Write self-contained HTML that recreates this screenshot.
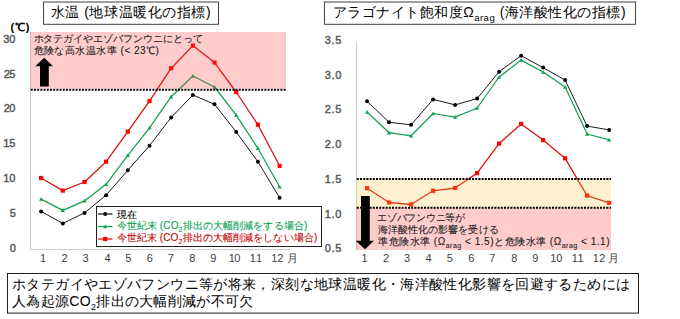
<!DOCTYPE html>
<html lang="ja"><head><meta charset="utf-8"><style>
html,body{margin:0;padding:0;background:#fff;width:680px;height:319px;overflow:hidden}
svg{display:block;font-family:"Liberation Sans",sans-serif}
</style></head><body>
<svg width="680" height="319" viewBox="0 0 680 319">
<path d="M30.5,32 V249.5 H290" fill="none" stroke="#CCCCCC" stroke-width="1"/><path d="M356.5,42 V250" fill="none" stroke="#CCCCCC" stroke-width="1"/><polyline points="41.1,211.4 62.8,223.4 84.5,212.9 106.1,195.2 127.8,170.2 149.5,145.7 171.2,117.4 192.9,95.0 214.5,104.3 236.2,131.9 257.9,161.7 279.6,197.8" fill="none" stroke="#000000" stroke-width="0.9" stroke-linejoin="round"/><circle cx="41.1" cy="211.4" r="2.0" fill="#000000"/><circle cx="62.8" cy="223.4" r="2.0" fill="#000000"/><circle cx="84.5" cy="212.9" r="2.0" fill="#000000"/><circle cx="106.1" cy="195.2" r="2.0" fill="#000000"/><circle cx="127.8" cy="170.2" r="2.0" fill="#000000"/><circle cx="149.5" cy="145.7" r="2.0" fill="#000000"/><circle cx="171.2" cy="117.4" r="2.0" fill="#000000"/><circle cx="192.9" cy="95.0" r="2.0" fill="#000000"/><circle cx="214.5" cy="104.3" r="2.0" fill="#000000"/><circle cx="236.2" cy="131.9" r="2.0" fill="#000000"/><circle cx="257.9" cy="161.7" r="2.0" fill="#000000"/><circle cx="279.6" cy="197.8" r="2.0" fill="#000000"/><polyline points="41.1,199.1 62.8,210.4 84.5,200.9 106.1,184.3 127.8,155.4 149.5,127.8 171.2,96.7 192.9,76.0 214.5,87.0 236.2,115.2 257.9,148.2 279.6,186.8" fill="none" stroke="#12A150" stroke-width="1.25" stroke-linejoin="round"/><path d="M41.1,197.0 L43.2,200.8 L39.0,200.8Z" fill="#12A150"/><path d="M62.8,208.3 L64.9,212.1 L60.7,212.1Z" fill="#12A150"/><path d="M84.5,198.8 L86.6,202.6 L82.4,202.6Z" fill="#12A150"/><path d="M106.1,182.2 L108.2,186.0 L104.0,186.0Z" fill="#12A150"/><path d="M127.8,153.3 L129.9,157.1 L125.7,157.1Z" fill="#12A150"/><path d="M149.5,125.7 L151.6,129.5 L147.4,129.5Z" fill="#12A150"/><path d="M171.2,94.6 L173.3,98.4 L169.1,98.4Z" fill="#12A150"/><path d="M192.9,73.9 L195.0,77.7 L190.8,77.7Z" fill="#12A150"/><path d="M214.5,84.9 L216.6,88.7 L212.4,88.7Z" fill="#12A150"/><path d="M236.2,113.1 L238.3,116.9 L234.1,116.9Z" fill="#12A150"/><path d="M257.9,146.1 L260.0,149.9 L255.8,149.9Z" fill="#12A150"/><path d="M279.6,184.7 L281.7,188.5 L277.5,188.5Z" fill="#12A150"/><polyline points="41.1,178.0 62.8,190.6 84.5,182.0 106.1,161.7 127.8,131.6 149.5,101.1 171.2,68.2 192.9,45.6 214.5,62.6 236.2,92.0 257.9,124.7 279.6,165.8" fill="none" stroke="#D81414" stroke-width="1.3" stroke-linejoin="round"/><rect x="39.0" y="175.9" width="4.2" height="4.2" fill="#FF0000"/><rect x="60.7" y="188.5" width="4.2" height="4.2" fill="#FF0000"/><rect x="82.4" y="179.9" width="4.2" height="4.2" fill="#FF0000"/><rect x="104.0" y="159.6" width="4.2" height="4.2" fill="#FF0000"/><rect x="125.7" y="129.5" width="4.2" height="4.2" fill="#FF0000"/><rect x="147.4" y="99.0" width="4.2" height="4.2" fill="#FF0000"/><rect x="169.1" y="66.1" width="4.2" height="4.2" fill="#FF0000"/><rect x="190.8" y="43.5" width="4.2" height="4.2" fill="#FF0000"/><rect x="212.4" y="60.5" width="4.2" height="4.2" fill="#FF0000"/><rect x="234.1" y="89.9" width="4.2" height="4.2" fill="#FF0000"/><rect x="255.8" y="122.6" width="4.2" height="4.2" fill="#FF0000"/><rect x="277.5" y="163.7" width="4.2" height="4.2" fill="#FF0000"/><polyline points="367.1,101.3 389.1,122.3 411.1,124.8 433.1,99.4 455.1,104.9 477.1,98.6 499.1,71.7 521.1,55.7 543.1,67.6 565.1,80.1 587.1,126.1 609.1,129.9" fill="none" stroke="#000000" stroke-width="0.9" stroke-linejoin="round"/><circle cx="367.1" cy="101.3" r="2.0" fill="#000000"/><circle cx="389.1" cy="122.3" r="2.0" fill="#000000"/><circle cx="411.1" cy="124.8" r="2.0" fill="#000000"/><circle cx="433.1" cy="99.4" r="2.0" fill="#000000"/><circle cx="455.1" cy="104.9" r="2.0" fill="#000000"/><circle cx="477.1" cy="98.6" r="2.0" fill="#000000"/><circle cx="499.1" cy="71.7" r="2.0" fill="#000000"/><circle cx="521.1" cy="55.7" r="2.0" fill="#000000"/><circle cx="543.1" cy="67.6" r="2.0" fill="#000000"/><circle cx="565.1" cy="80.1" r="2.0" fill="#000000"/><circle cx="587.1" cy="126.1" r="2.0" fill="#000000"/><circle cx="609.1" cy="129.9" r="2.0" fill="#000000"/><polyline points="367.1,112.0 389.1,132.7 411.1,135.8 433.1,113.5 455.1,117.1 477.1,108.0 499.1,77.0 521.1,60.1 543.1,72.0 565.1,87.0 587.1,134.0 609.1,139.8" fill="none" stroke="#12A150" stroke-width="1.25" stroke-linejoin="round"/><path d="M367.1,109.9 L369.2,113.7 L365.0,113.7Z" fill="#12A150"/><path d="M389.1,130.6 L391.2,134.4 L387.0,134.4Z" fill="#12A150"/><path d="M411.1,133.7 L413.2,137.5 L409.0,137.5Z" fill="#12A150"/><path d="M433.1,111.4 L435.2,115.2 L431.0,115.2Z" fill="#12A150"/><path d="M455.1,115.0 L457.2,118.8 L453.0,118.8Z" fill="#12A150"/><path d="M477.1,105.9 L479.2,109.7 L475.0,109.7Z" fill="#12A150"/><path d="M499.1,74.9 L501.2,78.7 L497.0,78.7Z" fill="#12A150"/><path d="M521.1,58.0 L523.2,61.8 L519.0,61.8Z" fill="#12A150"/><path d="M543.1,69.9 L545.2,73.7 L541.0,73.7Z" fill="#12A150"/><path d="M565.1,84.9 L567.2,88.7 L563.0,88.7Z" fill="#12A150"/><path d="M587.1,131.9 L589.2,135.7 L585.0,135.7Z" fill="#12A150"/><path d="M609.1,137.7 L611.2,141.5 L607.0,141.5Z" fill="#12A150"/><polyline points="367.1,188.2 389.1,202.5 411.1,204.5 433.1,190.8 455.1,188.0 477.1,173.1 499.1,143.6 521.1,123.9 543.1,140.1 565.1,158.3 587.1,195.6 609.1,202.9" fill="none" stroke="#D81414" stroke-width="1.3" stroke-linejoin="round"/><rect x="365.0" y="186.1" width="4.2" height="4.2" fill="#FF0000"/><rect x="387.0" y="200.4" width="4.2" height="4.2" fill="#FF0000"/><rect x="409.0" y="202.4" width="4.2" height="4.2" fill="#FF0000"/><rect x="431.0" y="188.7" width="4.2" height="4.2" fill="#FF0000"/><rect x="453.0" y="185.9" width="4.2" height="4.2" fill="#FF0000"/><rect x="475.0" y="171.0" width="4.2" height="4.2" fill="#FF0000"/><rect x="497.0" y="141.5" width="4.2" height="4.2" fill="#FF0000"/><rect x="519.0" y="121.8" width="4.2" height="4.2" fill="#FF0000"/><rect x="541.0" y="138.0" width="4.2" height="4.2" fill="#FF0000"/><rect x="563.0" y="156.2" width="4.2" height="4.2" fill="#FF0000"/><rect x="585.0" y="193.5" width="4.2" height="4.2" fill="#FF0000"/><rect x="607.0" y="200.8" width="4.2" height="4.2" fill="#FF0000"/><rect x="30.3" y="32" width="255.7" height="56.6" fill="#FF3333" fill-opacity="0.25"/><rect x="356.3" y="179" width="254.7" height="29" fill="#FFC33F" fill-opacity="0.25"/><rect x="356.3" y="208" width="254.7" height="42" fill="#FF3333" fill-opacity="0.25"/><line x1="30.8" y1="89.7" x2="286" y2="89.7" stroke="#000" stroke-width="2" stroke-dasharray="2 1.2"/><line x1="356.8" y1="179" x2="611" y2="179" stroke="#000" stroke-width="2" stroke-dasharray="2 1.2"/><line x1="356.8" y1="207.8" x2="611" y2="207.8" stroke="#000" stroke-width="2" stroke-dasharray="2 1.2"/><path d="M44.2,57.7 L53.1,66.2 L48.8,66.2 L48.8,86.6 L40,86.6 L40,66.2 L35.3,66.2 Z" fill="#000"/><path d="M361,196 L369.8,196 L369.8,240.7 L374,240.7 L365,249.2 L355.6,240.7 L361,240.7 Z" fill="#000"/><rect x="43.5" y="2" width="175" height="22.3" fill="#fff" stroke="#404040" stroke-width="1"/><rect x="324.5" y="2" width="311" height="22.3" fill="#fff" stroke="#404040" stroke-width="1"/><rect x="96.5" y="206.5" width="225" height="40" fill="#fff" stroke="#202020" stroke-width="1"/><line x1="98" y1="214" x2="112.5" y2="214" stroke="#000000" stroke-width="1.1"/><circle cx="105.2" cy="214.0" r="2.0" fill="#000000"/><line x1="98" y1="226.5" x2="112.5" y2="226.5" stroke="#12A150" stroke-width="1.3"/><path d="M105.2,224.4 L107.3,228.2 L103.1,228.2Z" fill="#12A150"/><line x1="98" y1="239" x2="112.5" y2="239" stroke="#D81414" stroke-width="1.3"/><rect x="103.1" y="236.9" width="4.2" height="4.2" fill="#FF0000"/><rect x="7.5" y="273.5" width="631" height="39.6" fill="#fff" stroke="#202020" stroke-width="1"/><text x="50.50" y="16.82" font-size="14" fill="#000" font-weight="normal" style="letter-spacing:0.583px">水温 (地球温暖化の指標)</text><text x="332.50" y="17.32" font-size="14" fill="#000" font-weight="normal" style="letter-spacing:0.517px">アラゴナイト飽和度Ω<tspan font-size="9.5" dy="3.5">arag</tspan><tspan dy="-3.5"> (海洋酸性化の指標)</tspan></text><text x="10.50" y="30.68" font-size="11" fill="#000" font-weight="bold" style="letter-spacing:0.800px">(℃)</text><text x="9.80" y="251.68" font-size="11" fill="#595959" font-weight="normal" stroke="#595959" stroke-width="0.45">0</text><text x="9.80" y="217.08" font-size="11" fill="#595959" font-weight="normal" stroke="#595959" stroke-width="0.45">5</text><text x="3.20" y="182.48" font-size="11" fill="#595959" font-weight="normal" stroke="#595959" stroke-width="0.45">10</text><text x="3.20" y="147.38" font-size="11" fill="#595959" font-weight="normal" stroke="#595959" stroke-width="0.45">15</text><text x="3.70" y="112.28" font-size="11" fill="#595959" font-weight="normal" stroke="#595959" stroke-width="0.45" style="letter-spacing:-0.500px">20</text><text x="3.70" y="77.68" font-size="11" fill="#595959" font-weight="normal" stroke="#595959" stroke-width="0.45" style="letter-spacing:-0.500px">25</text><text x="3.20" y="42.58" font-size="11" fill="#595959" font-weight="normal" stroke="#595959" stroke-width="0.45">30</text><text x="324.70" y="252.38" font-size="11" fill="#595959" font-weight="normal" stroke="#595959" stroke-width="0.45" style="letter-spacing:0.750px">0.5</text><text x="324.70" y="217.63" font-size="11" fill="#595959" font-weight="normal" stroke="#595959" stroke-width="0.45" style="letter-spacing:0.750px">1.0</text><text x="324.70" y="182.88" font-size="11" fill="#595959" font-weight="normal" stroke="#595959" stroke-width="0.45" style="letter-spacing:0.750px">1.5</text><text x="324.70" y="148.13" font-size="11" fill="#595959" font-weight="normal" stroke="#595959" stroke-width="0.45" style="letter-spacing:0.750px">2.0</text><text x="324.70" y="113.38" font-size="11" fill="#595959" font-weight="normal" stroke="#595959" stroke-width="0.45" style="letter-spacing:0.750px">2.5</text><text x="324.70" y="78.63" font-size="11" fill="#595959" font-weight="normal" stroke="#595959" stroke-width="0.45" style="letter-spacing:0.750px">3.0</text><text x="324.70" y="43.88" font-size="11" fill="#595959" font-weight="normal" stroke="#595959" stroke-width="0.45" style="letter-spacing:0.750px">3.5</text><text x="40.00" y="262.18" font-size="11" fill="#404040" font-weight="normal">1</text><text x="361.50" y="262.18" font-size="11" fill="#404040" font-weight="normal">1</text><text x="61.50" y="262.18" font-size="11" fill="#404040" font-weight="normal">2</text><text x="383.00" y="262.18" font-size="11" fill="#404040" font-weight="normal">2</text><text x="82.55" y="262.18" font-size="11" fill="#404040" font-weight="normal">3</text><text x="404.05" y="262.18" font-size="11" fill="#404040" font-weight="normal">3</text><text x="104.60" y="262.18" font-size="11" fill="#404040" font-weight="normal">4</text><text x="425.60" y="262.18" font-size="11" fill="#404040" font-weight="normal">4</text><text x="125.15" y="262.18" font-size="11" fill="#404040" font-weight="normal">5</text><text x="446.65" y="262.18" font-size="11" fill="#404040" font-weight="normal">5</text><text x="146.70" y="262.18" font-size="11" fill="#404040" font-weight="normal">6</text><text x="468.20" y="262.18" font-size="11" fill="#404040" font-weight="normal">6</text><text x="167.75" y="262.18" font-size="11" fill="#404040" font-weight="normal">7</text><text x="489.25" y="262.18" font-size="11" fill="#404040" font-weight="normal">7</text><text x="189.30" y="262.18" font-size="11" fill="#404040" font-weight="normal">8</text><text x="511.30" y="262.18" font-size="11" fill="#404040" font-weight="normal">8</text><text x="210.35" y="262.18" font-size="11" fill="#404040" font-weight="normal">9</text><text x="532.35" y="262.18" font-size="11" fill="#404040" font-weight="normal">9</text><text x="228.65" y="262.18" font-size="11" fill="#404040" font-weight="normal" style="letter-spacing:-0.500px">10</text><text x="550.15" y="262.18" font-size="11" fill="#404040" font-weight="normal">10</text><text x="249.70" y="262.18" font-size="11" fill="#404040" font-weight="normal" style="letter-spacing:1.000px">11</text><text x="571.70" y="262.18" font-size="11" fill="#404040" font-weight="normal" style="letter-spacing:0.500px">11</text><text x="271.25" y="262.18" font-size="11" fill="#404040" font-weight="normal">12</text><text x="592.75" y="262.18" font-size="11" fill="#404040" font-weight="normal" style="letter-spacing:0.500px">12</text><text x="287.00" y="261.88" font-size="11" fill="#404040" font-weight="normal">月</text><text x="608.20" y="261.88" font-size="11" fill="#404040" font-weight="normal">月</text><text x="33.50" y="42.30" font-size="10" fill="#202020" font-weight="normal" stroke="#202020" stroke-width="0.1" style="letter-spacing:-0.013px">ホタテガイやエゾバフンウニにとって</text><text x="33.50" y="54.00" font-size="10" fill="#202020" font-weight="normal" stroke="#202020" stroke-width="0.1" style="letter-spacing:0.480px">危険な高水温水準 (&lt; 23℃)</text><text x="116.50" y="217.80" font-size="10" fill="#000" font-weight="normal" stroke="#000" stroke-width="0.1" style="letter-spacing:0.100px">現在</text><text x="116.50" y="229.30" font-size="10" fill="#00A050" font-weight="normal" stroke="#00A050" stroke-width="0.1" style="letter-spacing:0.114px">今世紀末 (CO<tspan font-size="7" dy="2.5">2</tspan><tspan dy="-2.5">排出の大幅削減をする場合)</tspan></text><text x="116.50" y="241.30" font-size="10" fill="#C00000" font-weight="normal" stroke="#C00000" stroke-width="0.1" style="letter-spacing:0.109px">今世紀末 (CO<tspan font-size="7" dy="2.5">2</tspan><tspan dy="-2.5">排出の大幅削減をしない場合)</tspan></text><text x="377.00" y="220.80" font-size="10" fill="#202020" font-weight="normal" stroke="#202020" stroke-width="0.1" style="letter-spacing:-0.225px">エゾバフンウニ等が</text><text x="378.00" y="233.10" font-size="10" fill="#202020" font-weight="normal" stroke="#202020" stroke-width="0.1" style="letter-spacing:0.055px">海洋酸性化の影響を受ける</text><text x="378.00" y="245.30" font-size="10" fill="#202020" font-weight="normal" stroke="#202020" stroke-width="0.1" style="letter-spacing:0.514px">準危険水準 (Ω<tspan font-size="7" dy="2.5">arag</tspan><tspan dy="-2.5"> &lt; 1.5)と危険水準 (Ω</tspan><tspan font-size="7" dy="2.5">arag</tspan><tspan dy="-2.5"> &lt; 1.1)</tspan></text><text x="12.00" y="289.32" font-size="14" fill="#000" font-weight="normal" style="letter-spacing:0.381px">ホタテガイやエゾバフンウニ等が将来，深刻な地球温暖化・海洋酸性化影響を回避するためには</text><text x="12.00" y="306.32" font-size="14" fill="#000" font-weight="normal" style="letter-spacing:0.312px">人為起源CO<tspan font-size="9" dy="3.5">2</tspan><tspan dy="-3.5">排出の大幅削減が不可欠</tspan></text>
</svg></body></html>
